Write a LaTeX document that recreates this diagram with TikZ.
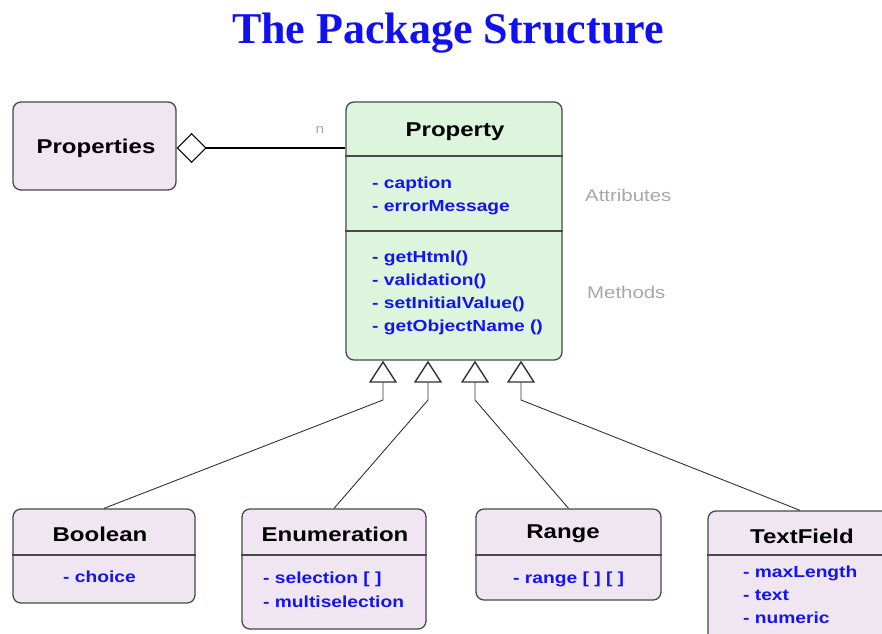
\documentclass[tikz,border=0pt]{standalone}
\usepackage{fontspec}
\setmainfont{Liberation Serif}
\newfontfamily\umlfont[FakeStretch=1.2]{Liberation Sans}
\usetikzlibrary{arrows.meta}
\definecolor{lav}{HTML}{F0E6F2}
\definecolor{mint}{HTML}{DDF5DD}
\definecolor{memblue}{HTML}{1414F0}
\definecolor{titleblue}{HTML}{1010F0}
\definecolor{edgecol}{HTML}{484848}
\definecolor{notecol}{HTML}{A8A8A8}
\tikzset{
  classbox/.style={draw=edgecol, line width=1.3pt, rounded corners=8pt, inner sep=0pt},
  divider/.style={draw=edgecol, line width=1.2pt},
  clsname/.style={font=\umlfont\bfseries\fontsize{20}{24}\selectfont, anchor=base, text=black, inner sep=0pt},
  member/.style={font=\umlfont\bfseries\fontsize{16}{19}\selectfont, anchor=base west, text=memblue, inner sep=0pt},
  notelbl/.style={font=\umlfont\fontsize{17}{20}\selectfont, anchor=base west, text=notecol, inner sep=0pt},
  gen/.style={draw=black!80, line width=0.9pt, -{Triangle[width=28pt,length=22pt,line width=1.4pt,fill=white]}},
  agg/.style={draw=black, line width=1.2pt, {Diamond[width=30pt,length=30pt,line width=1pt,fill=white]}-}
}
\begin{document}
\begin{tikzpicture}[x=1pt,y=-1pt]
\fill[white] (0,0) rectangle (882,633);
\clip (0,0) rectangle (882,633);

% title
\node[font=\bfseries\fontsize{44}{50}\selectfont, text=titleblue, anchor=base, inner sep=0pt] (title) at (448,43) {The Package Structure};

% class boxes
\node[classbox, fill=lav, minimum width=163pt, minimum height=88pt] (Properties) at (94.5,146) {};
\node[classbox, fill=mint, minimum width=216pt, minimum height=258pt] (Property) at (454,231) {};
\node[classbox, fill=lav, minimum width=182pt, minimum height=94pt] (Boolean) at (104,556) {};
\node[classbox, fill=lav, minimum width=184pt, minimum height=120pt] (Enumeration) at (334,569) {};
\node[classbox, fill=lav, minimum width=185pt, minimum height=91pt] (Range) at (568.5,554.5) {};
\node[classbox, fill=lav, minimum width=184pt, minimum height=139pt] (TextField) at (800,580.5) {};

% dividers
\draw[divider] (Property.west |- 0,156) -- (Property.east |- 0,156);
\draw[divider] (Property.west |- 0,231) -- (Property.east |- 0,231);
\draw[divider] (Boolean.west |- 0,555) -- (Boolean.east |- 0,555);
\draw[divider] (Enumeration.west |- 0,555) -- (Enumeration.east |- 0,555);
\draw[divider] (Range.west |- 0,555) -- (Range.east |- 0,555);
\draw[divider] (TextField.west |- 0,555) -- (TextField.east |- 0,555);

% names
\node[clsname] (nProperties) at (96,153) {Properties};
\node[clsname] (nProperty) at (455,136) {Property};
\node[clsname] (nBoolean) at (100,541) {Boolean};
\node[clsname] (nEnumeration) at (335,541) {Enumeration};
\node[clsname] (nRange) at (563,538) {Range};
\node[clsname] (nTextField) at (802,543) {TextField};

% Property members
\node[member] (a1) at (372,188) {- caption};
\node[member] (a2) at (372,211) {- errorMessage};
\node[member] (m1) at (372,262) {- getHtml()};
\node[member] (m2) at (372,285) {- validation()};
\node[member] (m3) at (372,308) {- setInitialValue()};
\node[member] (m4) at (372,331) {- getObjectName ()};

% subclass members
\node[member] (b1) at (63,582) {- choice};
\node[member] (e1) at (263,583) {- selection [ ]};
\node[member] (e2) at (263,607) {- multiselection};
\node[member] (r1) at (513,583) {- range [ ] [ ]};
\node[member] (t1) at (743,577) {- maxLength};
\node[member] (t2) at (743,600) {- text};
\node[member] (t3) at (743,623) {- numeric};

% notes
\node[notelbl] (attr) at (585,201) {Attributes};
\node[notelbl] (meth) at (587,298) {Methods};
\node[font=\umlfont\fontsize{13}{15}\selectfont, text=notecol, anchor=base, inner sep=0pt] (mult) at (320,133) {n};

% aggregation
\draw[agg] (Properties.east |- 0,148) -- (Property.west |- 0,148);

% generalizations
\coordinate (k1) at (383,400);
\coordinate (k2) at (428,400);
\coordinate (k3) at (475,400);
\coordinate (k4) at (521,400);
\draw[gen] (Boolean.north) -- (k1) -- (Property.south -| k1);
\draw[gen] (Enumeration.north) -- (k2) -- (Property.south -| k2);
\draw[gen] (Range.north) -- (k3) -- (Property.south -| k3);
\draw[gen] (TextField.north) -- (k4) -- (Property.south -| k4);
\end{tikzpicture}
\end{document}
